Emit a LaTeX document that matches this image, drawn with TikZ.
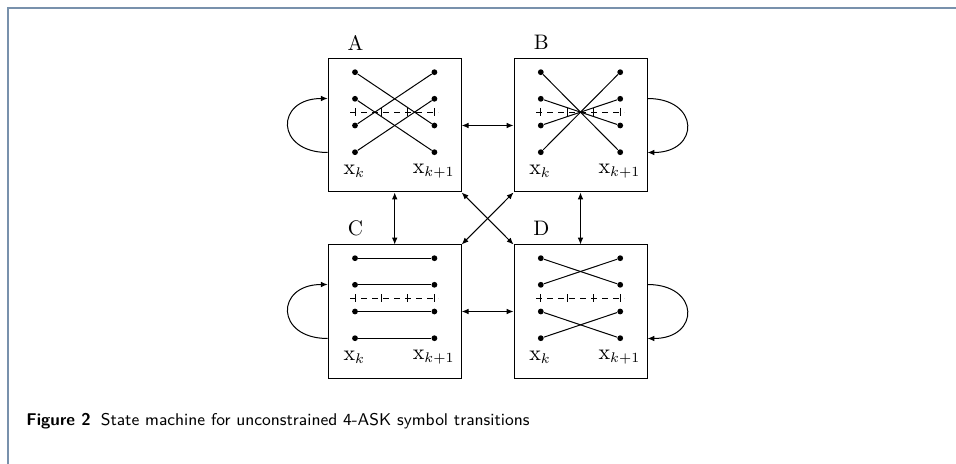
\documentclass[tikz,border=0pt]{standalone}
\usetikzlibrary{arrows.meta,calc}
\definecolor{framecol}{RGB}{120,145,172}
\tikzset{
  sbox/.style={draw,line width=0.5pt,minimum width=66.5pt,minimum height=66.5pt,inner sep=0pt},
  dotn/.style={circle,fill,inner sep=0pt,minimum size=2.9pt},
  conn/.style={line width=0.5pt},
  signline/.style={line width=0.45pt,dash pattern=on 3pt off 2.5pt},
  tick/.style={line width=0.45pt},
  arr/.style={line width=0.5pt,{Latex[length=3.4pt,width=2.8pt]}-{Latex[length=3.4pt,width=2.8pt]}},
  looparr/.style={line width=0.5pt,-{Latex[length=3.4pt,width=2.8pt]}},
  boxlabel/.style={inner sep=0pt,font=\fontsize{10.5}{12}\selectfont},
  collabel/.style={inner sep=0pt,font=\fontsize{10.5}{12}\selectfont}
}
\newcommand{\stbox}[4]{%
  \node[sbox] (#1) at (#2,#3) {};
  \node[boxlabel] (#1-name) at ([shift={(-39.2,-82.7)}]#1.center) {#4};
  \foreach \i/\dy in {1/-53.3,2/-26.7,3/0,4/26.7}{
    \node[dotn] (#1-l\i) at ([shift={(-39.7,\dy)}]#1.center) {};
    \node[dotn] (#1-r\i) at ([shift={(39.7,\dy)}]#1.center) {};
  }
  \coordinate (#1-s0) at ([shift={(-44.5,-13.5)}]#1.center);
  \coordinate (#1-s1) at ([shift={(43.5,-13.5)}]#1.center);
  \draw[signline] (#1-s0) -- (#1-s1);
  \foreach \dx in {-39.7,-13.2,13.2,39.7}{
    \draw[tick] ([shift={(\dx,-17.5)}]#1.center) -- ([shift={(\dx,-9.5)}]#1.center);
  }
  \node[collabel] (#1-xk) at ([shift={(-40.5,45.5)}]#1.center) {$\mathrm{x}_k$};
  \node[collabel] (#1-xk1) at ([shift={(39,45.5)}]#1.center) {$\mathrm{x}_{k+1}$};
}
\begin{document}
\begin{tikzpicture}[x=0.5pt,y=-0.5pt]
\useasboundingbox (0,0) rectangle (956,464);
% frame
\draw[framecol,line width=1pt] (7.5,464) -- (7.5,8.5) -- (956,8.5);
% boxes
\stbox{A}{394.7}{125.5}{A}
\stbox{B}{580.5}{125.5}{B}
\stbox{C}{394.7}{311.5}{C}
\stbox{D}{580.5}{311.5}{D}
% A connections
\draw[conn] (A-l1) -- (A-r3);
\draw[conn] (A-l2) -- (A-r4);
\draw[conn] (A-l3) -- (A-r1);
\draw[conn] (A-l4) -- (A-r2);
% B connections
\draw[conn] (B-l1) -- (B-r4);
\draw[conn] (B-l2) -- (B-r3);
\draw[conn] (B-l3) -- (B-r2);
\draw[conn] (B-l4) -- (B-r1);
% C connections
\draw[conn] (C-l1) -- (C-r1);
\draw[conn] (C-l2) -- (C-r2);
\draw[conn] (C-l3) -- (C-r3);
\draw[conn] (C-l4) -- (C-r4);
% D connections
\draw[conn] (D-l1) -- (D-r2);
\draw[conn] (D-l2) -- (D-r1);
\draw[conn] (D-l3) -- (D-r4);
\draw[conn] (D-l4) -- (D-r3);
% transitions
\draw[arr] (A) -- (B);
\draw[arr] (A) -- (C);
\draw[arr] (B) -- (D);
\draw[arr] (C) -- (D);
\draw[arr] (A.south east) -- (D.north west);
\draw[arr] (B.south west) -- (C.north east);
% self loops
\draw[looparr] ([yshift=-13.5pt]A.west) to[out=180,in=180,looseness=2.5] ([yshift=13.5pt]A.west);
\draw[looparr] ([yshift=13.5pt]B.east) to[out=0,in=0,looseness=2.5] ([yshift=-13.5pt]B.east);
\draw[looparr] ([yshift=-13.5pt]C.west) to[out=180,in=180,looseness=2.5] ([yshift=13.5pt]C.west);
\draw[looparr] ([yshift=13.5pt]D.east) to[out=0,in=0,looseness=2.5] ([yshift=-13.5pt]D.east);
% caption
\node[anchor=west,inner sep=0pt,font=\fontsize{8.5}{10}\selectfont\sffamily] (cap) at (26,421) {\textbf{Figure 2}\hspace{0.6em}State machine for unconstrained 4-ASK symbol transitions};
\end{tikzpicture}
\end{document}
